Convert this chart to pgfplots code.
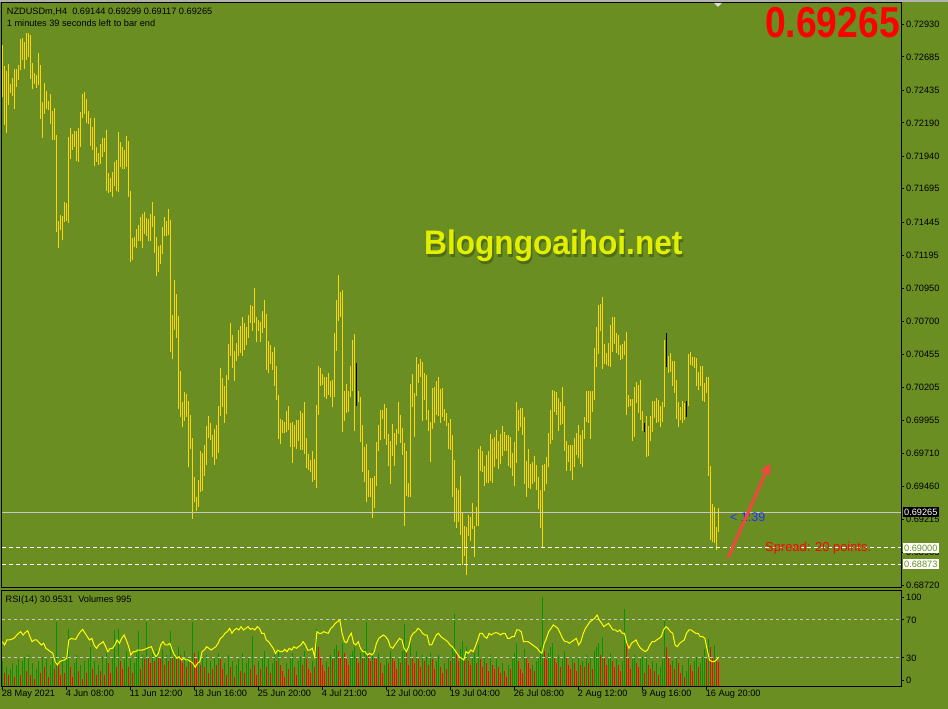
\documentclass[border=0pt]{standalone}
\usepackage{fontspec}
\setmainfont{Liberation Sans}
\usepackage{graphicx}
\usepackage{pgfplots}
\pgfplotsset{compat=1.18}
\usepackage{pgfplotstable}
\usetikzlibrary{arrows.meta}

\definecolor{olive}{RGB}{107,142,35}
\definecolor{barcol}{RGB}{255,215,0}
\definecolor{volg}{RGB}{0,150,0}
\definecolor{volr}{RGB}{255,0,0}
\definecolor{rsiy}{RGB}{255,255,0}
\definecolor{lvl}{RGB}{200,200,200}
\definecolor{wm}{RGB}{226,240,0}
\definecolor{wmshadow}{RGB}{72,96,20}
\definecolor{arrowred}{RGB}{240,72,60}
\definecolor{blue1}{RGB}{30,50,255}

\newcommand\mt{\fontsize{9.2}{11}\selectfont}

% H4 bars: index, low, high
\pgfplotstableread[row sep=\\]{
i l h\\
0 0.72386 0.72774\\ 1 0.72177 0.72614\\ 2 0.72115 0.72579\\ 3 0.72324 0.72632\\ 4 0.72413 0.72485\\
5 0.72394 0.72528\\ 6 0.72297 0.72595\\ 7 0.72461 0.72595\\ 8 0.72512 0.72624\\ 9 0.72587 0.72820\\
10 0.72662 0.72828\\ 11 0.72595 0.72796\\ 12 0.72662 0.72868\\ 13 0.72681 0.72868\\ 14 0.72520 0.72849\\
15 0.72445 0.72640\\ 16 0.72480 0.72565\\ 17 0.72453 0.72547\\ 18 0.72474 0.72715\\ 19 0.72220 0.72624\\
20 0.72080 0.72346\\ 21 0.72257 0.72490\\ 22 0.72297 0.72431\\ 23 0.72284 0.72354\\ 24 0.72182 0.72407\\
25 0.72064 0.72279\\ 26 0.72064 0.72303\\ 27 0.71373 0.72099\\ 28 0.71247 0.71453\\ 29 0.71389 0.71499\\
30 0.71314 0.71491\\ 31 0.71448 0.71595\\ 32 0.71453 0.71587\\ 33 0.71442 0.72086\\ 34 0.71917 0.72153\\
35 0.71989 0.72107\\ 36 0.72005 0.72131\\ 37 0.71901 0.72131\\ 38 0.71898 0.72153\\ 39 0.72008 0.72271\\
40 0.72228 0.72407\\ 41 0.72260 0.72421\\ 42 0.72190 0.72370\\ 43 0.72185 0.72279\\ 44 0.72016 0.72230\\
45 0.71989 0.72158\\ 46 0.71863 0.72230\\ 47 0.71898 0.72008\\ 48 0.71877 0.71965\\ 49 0.71882 0.72032\\
50 0.71930 0.72078\\ 51 0.71970 0.72078\\ 52 0.71676 0.72139\\ 53 0.71660 0.71815\\ 54 0.71670 0.71775\\
55 0.71635 0.71820\\ 56 0.71713 0.71895\\ 57 0.71676 0.71909\\ 58 0.71670 0.72118\\ 59 0.71855 0.72043\\
60 0.71847 0.72008\\ 61 0.71847 0.71989\\ 62 0.71855 0.72091\\ 63 0.71635 0.72053\\ 64 0.71148 0.71676\\
65 0.71161 0.71327\\ 66 0.71255 0.71333\\ 67 0.71247 0.71394\\ 68 0.71306 0.71421\\ 69 0.71300 0.71480\\
70 0.71247 0.71507\\ 71 0.71354 0.71520\\ 72 0.71341 0.71475\\ 73 0.71300 0.71469\\ 74 0.71300 0.71507\\
75 0.71408 0.71595\\ 76 0.71215 0.71493\\ 77 0.71038 0.71335\\ 78 0.71067 0.71268\\ 79 0.71134 0.71274\\
80 0.71207 0.71405\\ 81 0.71341 0.71483\\ 82 0.71341 0.71456\\ 83 0.71349 0.71544\\ 84 0.70470 0.71461\\
85 0.70416 0.70748\\ 86 0.70638 0.71011\\ 87 0.70574 0.70906\\ 88 0.70046 0.70743\\ 89 0.69982 0.70328\\
90 0.69907 0.70094\\ 91 0.69955 0.70169\\ 92 0.69982 0.70156\\ 93 0.69604 0.70102\\ 94 0.69746 0.69998\\
95 0.69218 0.69826\\ 96 0.69344 0.69532\\ 97 0.69277 0.69384\\ 98 0.69304 0.69510\\ 99 0.69416 0.69727\\
100 0.69430 0.69714\\ 101 0.69542 0.69773\\ 102 0.69623 0.69915\\ 103 0.69826 0.69993\\ 104 0.69813 0.69939\\
105 0.69682 0.69848\\ 106 0.69625 0.69893\\ 107 0.69666 0.69923\\ 108 0.69714 0.70065\\ 109 0.69993 0.70352\\
110 0.70057 0.70277\\ 111 0.69939 0.70215\\ 112 0.70006 0.70298\\ 113 0.70263 0.70531\\ 114 0.70440 0.70689\\
115 0.70352 0.70598\\ 116 0.70252 0.70478\\ 117 0.70403 0.70539\\ 118 0.70443 0.70636\\ 119 0.70464 0.70665\\
120 0.70440 0.70732\\ 121 0.70488 0.70689\\ 122 0.70523 0.70657\\ 123 0.70577 0.70748\\ 124 0.70689 0.70823\\
125 0.70630 0.70818\\ 126 0.70689 0.70952\\ 127 0.70545 0.70732\\ 128 0.70630 0.70711\\ 129 0.70545 0.70695\\
130 0.70614 0.70778\\ 131 0.70652 0.70861\\ 132 0.70336 0.70756\\ 133 0.70314 0.70553\\ 134 0.70381 0.70523\\
135 0.70336 0.70470\\ 136 0.70215 0.70507\\ 137 0.70113 0.70365\\ 138 0.69821 0.70148\\ 139 0.69781 0.69971\\
140 0.69859 0.69960\\ 141 0.69859 0.69942\\ 142 0.69867 0.70027\\ 143 0.69888 0.70065\\ 144 0.69754 0.69939\\
145 0.69639 0.69944\\ 146 0.69757 0.69923\\ 147 0.69746 0.69960\\ 148 0.69805 0.69960\\ 149 0.69738 0.70027\\
150 0.69738 0.70014\\ 151 0.69706 0.70094\\ 152 0.69601 0.69826\\ 153 0.69585 0.69706\\ 154 0.69572 0.69660\\
155 0.69494 0.69727\\ 156 0.69513 0.69668\\ 157 0.69451 0.70073\\ 158 0.70001 0.70365\\ 159 0.70218 0.70349\\
160 0.70223 0.70306\\ 161 0.70135 0.70282\\ 162 0.70121 0.70282\\ 163 0.70148 0.70314\\ 164 0.70129 0.70252\\
165 0.70054 0.70263\\ 166 0.70135 0.70614\\ 167 0.70480 0.70861\\ 168 0.70705 0.71048\\ 169 0.70732 0.70920\\
170 0.69872 0.70936\\ 171 0.69955 0.70177\\ 172 0.70014 0.70231\\ 173 0.70022 0.70177\\ 174 0.70129 0.70365\\
175 0.70177 0.70561\\ 176 0.69880 0.70606\\ 178 0.70092 0.70177\\ 179 0.69792 0.70132\\
180 0.69572 0.69923\\ 181 0.69491 0.69757\\ 182 0.69344 0.69781\\ 183 0.69379 0.69585\\ 184 0.69379 0.69526\\
185 0.69221 0.69526\\ 186 0.69296 0.69540\\ 187 0.69462 0.69794\\ 188 0.69730 0.69923\\ 189 0.69813 0.70035\\
190 0.69971 0.70035\\ 191 0.69821 0.70081\\ 192 0.69770 0.70051\\ 193 0.69612 0.69853\\ 194 0.69478 0.69800\\
195 0.69692 0.69931\\ 196 0.69617 0.69864\\ 197 0.69775 0.69893\\ 198 0.69853 0.70094\\ 199 0.69786 0.69998\\
200 0.69698 0.69901\\ 201 0.69162 0.69786\\ 202 0.69392 0.69727\\ 203 0.69379 0.69489\\ 204 0.69379 0.70231\\
205 0.70054 0.70306\\ 206 0.69832 0.70164\\ 207 0.70143 0.70432\\ 208 0.70234 0.70381\\ 209 0.70282 0.70419\\
210 0.69955 0.70395\\ 211 0.70108 0.70312\\ 212 0.69960 0.70298\\ 213 0.69880 0.70035\\ 214 0.69641 0.69947\\
215 0.69896 0.70202\\ 216 0.69934 0.70207\\ 217 0.70001 0.70252\\ 218 0.69993 0.70285\\ 219 0.69934 0.70194\\
220 0.69982 0.70202\\ 221 0.69955 0.70043\\ 222 0.69915 0.70014\\ 223 0.69746 0.69936\\ 224 0.69733 0.69968\\
225 0.69381 0.69848\\ 226 0.69197 0.69660\\ 227 0.69151 0.69448\\ 228 0.69197 0.69438\\ 229 0.69100 0.69540\\
230 0.68875 0.69269\\ 231 0.68942 0.69167\\ 232 0.68800 0.69156\\ 233 0.69087 0.69248\\ 234 0.69049 0.69231\\
235 0.69143 0.69339\\ 236 0.68929 0.69162\\ 237 0.69162 0.69309\\ 238 0.69162 0.69746\\ 239 0.69580 0.69765\\
240 0.69569 0.69727\\ 241 0.69462 0.69617\\ 242 0.69489 0.69700\\ 243 0.69486 0.69727\\ 244 0.69505 0.69856\\
245 0.69489 0.69818\\ 246 0.69604 0.69832\\ 247 0.69666 0.69883\\ 248 0.69593 0.69800\\ 249 0.69633 0.69856\\
250 0.69687 0.69915\\ 251 0.69727 0.69872\\ 252 0.69727 0.69851\\ 253 0.69612 0.69848\\ 254 0.69596 0.69829\\
255 0.69540 0.69714\\ 256 0.69467 0.69794\\ 257 0.69636 0.70094\\ 258 0.69880 0.70035\\ 259 0.69907 0.70051\\
260 0.69848 0.70051\\ 261 0.69483 0.69979\\ 262 0.69384 0.69652\\ 263 0.69451 0.69743\\ 264 0.69443 0.69628\\
265 0.69483 0.69644\\ 266 0.69494 0.69690\\ 267 0.69438 0.69625\\ 268 0.69290 0.69532\\ 269 0.69146 0.69435\\
270 0.69001 0.69620\\ 271 0.69430 0.69633\\ 272 0.69478 0.69682\\ 273 0.69604 0.69864\\ 274 0.69781 0.70035\\
275 0.69813 0.70185\\ 276 0.70019 0.70175\\ 277 0.70001 0.70167\\ 278 0.69880 0.70127\\ 279 0.69920 0.70094\\
280 0.69928 0.70207\\ 281 0.69730 0.70068\\ 282 0.69580 0.69802\\ 283 0.69644 0.69773\\ 284 0.69580 0.69773\\
285 0.69513 0.69773\\ 286 0.69604 0.69826\\ 287 0.69698 0.69864\\ 288 0.69671 0.69923\\ 289 0.69631 0.69848\\
290 0.69604 0.69885\\ 291 0.69821 0.69985\\ 292 0.69947 0.70177\\ 293 0.69939 0.70177\\ 294 0.69821 0.70177\\
295 0.70022 0.70175\\ 296 0.70113 0.70502\\ 297 0.70354 0.70657\\ 298 0.70456 0.70826\\ 299 0.70625 0.70831\\
300 0.70346 0.70882\\ 301 0.70381 0.70534\\ 302 0.70373 0.70464\\ 303 0.70362 0.70539\\ 304 0.70360 0.70671\\
305 0.70470 0.70732\\ 306 0.70529 0.70732\\ 307 0.70462 0.70614\\ 308 0.70451 0.70596\\ 309 0.70408 0.70523\\
310 0.70416 0.70531\\ 311 0.70448 0.70555\\ 312 0.70001 0.70620\\ 313 0.70054 0.70148\\ 314 0.70068 0.70121\\
315 0.69800 0.70121\\ 316 0.69832 0.70207\\ 317 0.70086 0.70242\\ 318 0.70014 0.70223\\ 319 0.69960 0.70261\\
320 0.69880 0.70025\\ 322 0.69679 0.69987\\ 323 0.69687 0.69915\\ 324 0.69800 0.69993\\
325 0.69872 0.70102\\ 326 0.69974 0.70102\\ 327 0.69939 0.70127\\ 328 0.69947 0.70113\\ 329 0.69907 0.70068\\
330 0.69947 0.70094\\ 331 0.70054 0.70563\\ 333 0.70309 0.70443\\ 334 0.70322 0.70464\\
335 0.70215 0.70403\\ 336 0.70161 0.70403\\ 337 0.69966 0.70263\\ 338 0.69907 0.70094\\ 339 0.69960 0.70054\\
340 0.69934 0.70102\\ 341 0.69960 0.70089\\ 343 0.70062 0.70456\\ 344 0.70376 0.70470\\
345 0.70362 0.70435\\ 346 0.70349 0.70435\\ 347 0.70215 0.70427\\ 348 0.70183 0.70322\\ 349 0.70215 0.70365\\
350 0.70102 0.70365\\ 351 0.70094 0.70234\\ 352 0.70161 0.70282\\ 353 0.69540 0.70282\\ 354 0.69063 0.69612\\
355 0.69041 0.69331\\ 356 0.69036 0.69304\\ 357 0.68982 0.69156\\ 358 0.69117 0.69299\\
}\bars

\pgfplotstableread[row sep=\\]{
i l h\\
177 0.70068 0.70389\\ 321 0.69867 0.69939\\ 332 0.70354 0.70614\\ 342 0.69979 0.70102\\
}\blackbars

\begin{document}
\begin{tikzpicture}[x=1pt,y=1pt]
\fill[olive] (0,0) rectangle (948,709);
\fill[gray!60] (0,706.5) rectangle (948,709);

% price panel
\begin{axis}[
  at={(2pt,121pt)}, anchor=south west, scale only axis,
  width=899pt, height=585pt,
  xmin=-0.335, xmax=449.165, ymin=0.686991, ymax=0.730895,
  axis line style={black, line width=1pt},
  xtick=\empty,
  ytick={0.72930,0.72685,0.72435,0.72190,0.71940,0.71695,0.71445,0.71195,0.70950,
         0.70700,0.70455,0.70205,0.69955,0.69710,0.69460,0.69215,0.68965,0.68720},
  yticklabels={0.72930,0.72685,0.72435,0.72190,0.71940,0.71695,0.71445,0.71195,0.70950,
         0.70700,0.70455,0.70205,0.69955,0.69710,0.69460,0.69215,0.68965,0.68720},
  ytick pos=right, yticklabel pos=right,
  tick align=outside, major tick length=3pt,
  tick style={black, line width=1pt},
  yticklabel style={font=\mt, anchor=west, inner sep=0pt, xshift=2pt},
]
\addplot[draw=none, mark=none, error bars/.cd, y dir=plus, y explicit,
  error mark=none, error bar style={draw=barcol, line width=1pt}]
  table[x=i, y=l, y error plus expr=\thisrow{h}-\thisrow{l}] {\bars};
\addplot[draw=none, mark=none, error bars/.cd, y dir=plus, y explicit,
  error mark=none, error bar style={draw=black, line width=1pt}]
  table[x=i, y=l, y error plus expr=\thisrow{h}-\thisrow{l}] {\blackbars};
\addplot[lvl, line width=1pt] coordinates {(-0.335,0.69265) (449.165,0.69265)};
\addplot[white, line width=1pt, dash pattern=on 4pt off 3pt] coordinates {(-0.335,0.69000) (449.165,0.69000)};
\addplot[white, line width=1pt, dash pattern=on 4pt off 3pt] coordinates {(-0.335,0.68873) (449.165,0.68873)};
\end{axis}

% volumes
\begin{axis}[
  at={(2pt,22pt)}, anchor=south west, scale only axis,
  width=899pt, height=96pt,
  xmin=-0.335, xmax=449.165, ymin=0, ymax=3840,
  hide axis,
]
\addplot[ycomb, volg, line width=1pt, mark=none] coordinates {
(0,1040)(2,800)(4,720)(5,960)(7,880)(8,1120)(10,1040)(11,1200)(13,1280)(15,960)(17,720)(18,1040)(20,1200)(22,1120)(24,880)(25,1200)(27,2600)(30,1200)(32,1120)(33,2320)(36,960)(37,1280)(39,880)(41,1040)(43,1200)(44,1600)(46,1040)(48,880)(50,1200)(52,1360)(55,1200)(56,2280)(58,2320)(61,1120)(62,1440)(64,1200)(66,960)(67,1360)(68,2240)(70,1280)(72,2600)(75,1360)(77,1440)(80,1520)(82,1280)(84,2240)(86,1360)(88,1600)(91,1440)(93,1200)(95,2600)(98,1440)(100,1200)(102,1280)(104,1040)(106,1200)(108,1360)(111,960)(113,1280)(115,1040)(117,880)(118,1120)(120,1360)(122,960)(123,1200)(125,2040)(128,1040)(130,1200)(131,1440)(133,1120)(135,960)(136,1280)(138,1520)(142,960)(144,1200)(145,1360)(148,1040)(149,1200)(151,1440)(155,1040)(157,2320)(162,1040)(164,1280)(166,1520)(167,1680)(170,1760)(174,1280)(175,1440)(176,1600)(179,1360)(181,1520)(182,2600)(185,1440)(188,1360)(191,880)(192,1120)(194,1440)(198,1200)(200,1440)(201,2520)(204,1760)(207,1440)(210,1280)(212,1200)(214,1360)(217,1040)(218,1280)(221,960)(223,1200)(225,1600)(226,2920)(229,1520)(230,1840)(232,1600)(235,1200)(236,1360)(238,1680)(241,1200)(244,1280)(247,1120)(250,960)(253,880)(255,1120)(256,1360)(257,1760)(261,1520)(265,880)(267,1040)(268,1200)(269,1600)(270,3600)(273,1360)(274,1600)(275,1760)(278,1280)(280,1120)(281,1440)(285,1120)(288,1200)(290,1040)(292,1280)(294,1200)(296,1440)(297,1600)(298,1760)(300,2000)(303,1120)(304,1360)(307,1120)(310,1040)(311,3120)(315,1120)(316,1280)(319,1120)(320,1200)(322,1280)(325,1040)(327,960)(329,800)(330,1120)(331,2640)(335,1040)(337,1200)(340,880)(342,640)(343,1200)(346,1040)(347,1200)(349,960)(350,1200)(351,1520)(353,1920)(356,1680)
};
\addplot[ycomb, volr, line width=1pt, mark=none] coordinates {
(1,560)(3,480)(6,400)(9,480)(12,640)(14,480)(16,320)(19,560)(21,800)(23,400)(26,720)(28,960)(29,480)(31,560)(34,800)(35,400)(38,640)(40,320)(42,560)(45,720)(47,480)(49,640)(51,480)(53,960)(54,560)(57,800)(59,1040)(60,720)(63,800)(65,560)(69,720)(71,1120)(73,1200)(74,960)(76,1040)(78,1200)(79,1120)(81,880)(83,1040)(85,1200)(87,1120)(89,1280)(90,960)(92,800)(94,1040)(96,1360)(97,1120)(99,880)(101,800)(103,560)(105,720)(107,880)(109,1120)(110,720)(112,480)(114,800)(116,400)(119,640)(121,560)(124,720)(126,880)(127,480)(129,720)(132,800)(134,560)(137,1040)(139,880)(140,640)(141,400)(143,720)(146,800)(147,480)(150,880)(152,1120)(153,720)(154,560)(156,800)(158,1600)(159,1200)(160,880)(161,640)(163,800)(165,1120)(168,1440)(169,1200)(171,1360)(172,1120)(173,880)(177,1200)(178,960)(180,1200)(183,1280)(184,1040)(186,1200)(187,1120)(189,960)(190,560)(193,960)(195,1200)(196,1040)(197,720)(199,960)(202,1360)(203,880)(205,1200)(206,960)(208,1120)(209,800)(211,1040)(213,880)(215,1120)(216,720)(219,800)(220,560)(222,720)(224,1040)(227,1360)(228,1040)(231,1200)(233,1040)(234,880)(237,960)(239,1120)(240,800)(242,960)(243,640)(245,880)(246,720)(248,800)(249,560)(251,640)(252,400)(254,720)(258,1040)(259,720)(260,560)(262,1200)(263,960)(264,720)(266,640)(271,1440)(272,1120)(276,1200)(277,960)(279,800)(282,1200)(283,880)(284,720)(286,960)(287,640)(289,880)(291,800)(293,960)(295,720)(299,1280)(301,1200)(302,880)(305,1040)(306,800)(308,880)(309,640)(312,1760)(313,1200)(314,720)(317,960)(318,800)(321,560)(323,880)(324,720)(326,640)(328,480)(332,1600)(333,1200)(334,880)(336,720)(338,960)(339,560)(341,400)(344,880)(345,640)(348,800)(352,1120)(354,1600)(355,1200)(357,1120)(358,995)
};
\end{axis}

% RSI panel
\begin{axis}[
  at={(2pt,22pt)}, anchor=south west, scale only axis,
  width=899pt, height=96pt,
  xmin=-0.335, xmax=449.165, ymin=-0.53, ymax=100.53,
  axis line style={black, line width=1pt},
  xtick={0,32,64,96,128,160,192,224,256,288,320,352},
  xticklabels={28 May 2021,4 Jun 08:00,11 Jun 12:00,18 Jun 16:00,25 Jun 20:00,4 Jul 21:00,
               12 Jul 00:00,19 Jul 04:00,26 Jul 08:00,2 Aug 12:00,9 Aug 16:00,16 Aug 20:00},
  xtick pos=left,
  ytick={6.1,30,70,93.5}, yticklabels={0,30,70,100},
  ytick pos=right, yticklabel pos=right,
  tick align=outside, major tick length=3pt,
  tick style={black, line width=1pt},
  yticklabel style={font=\mt, anchor=west, inner sep=0pt, xshift=2pt},
  xticklabel style={font=\mt, anchor=north west, inner sep=0pt, xshift=-1pt},
]
\addplot[lvl, line width=1pt, dash pattern=on 3pt off 3pt] coordinates {(-0.335,70) (449.165,70)};
\addplot[lvl, line width=1pt, dash pattern=on 3pt off 3pt] coordinates {(-0.335,30) (449.165,30)};
\addplot[rsiy, line width=1pt, mark=none] coordinates {
(-0.2,47.2)(1.0,43.7)(2.1,49.0)(3.3,49.0)(4.4,49.7)(5.6,50.7)(6.7,53.2)(7.9,56.0)(9.0,57.7)
(10.2,54.2)(11.3,56.7)(12.5,58.8)(13.6,52.5)(14.7,47.2)(15.9,49.0)(17.0,49.0)(18.2,46.2)(19.3,43.7)(20.5,45.5)
(21.6,40.2)(22.8,38.4)(23.9,36.7)(25.1,34.9)(26.2,26.2)(27.4,22.6)(28.5,26.2)(29.7,27.2)(30.8,27.9)(32.0,29.7)
(33.1,49.0)(34.3,50.7)(35.4,50.0)(36.6,49.7)(37.7,54.2)(38.9,57.7)(40.0,60.2)(41.2,56.0)(42.3,52.5)(43.4,49.0)
(44.6,50.7)(45.7,43.7)(46.9,40.2)(48.0,43.7)(49.2,45.5)(50.3,47.2)(51.5,41.9)(52.6,36.7)(53.8,40.2)(54.9,40.2)
(56.1,43.7)(57.2,49.0)(58.4,45.5)(59.5,50.7)(60.7,54.2)(61.8,49.0)(63.0,41.9)(64.1,33.2)(65.3,36.7)(66.4,36.7)
(67.6,38.4)(68.7,38.4)(69.9,38.4)(71.0,39.1)(72.1,40.2)(73.3,41.2)(74.4,41.9)(75.6,34.9)(76.7,31.4)(77.9,34.9)
(79.0,43.7)(80.2,47.2)(81.3,43.7)(82.5,43.7)(83.6,45.5)(84.8,38.4)(85.9,33.2)(87.1,29.7)(88.2,31.4)(89.4,27.9)
(90.5,29.7)(91.7,27.9)(92.8,27.9)(94.0,26.2)(95.1,24.4)(96.3,20.2)(97.4,24.4)(98.6,26.2)(99.7,36.7)(100.8,38.4)
(102.0,41.9)(103.1,40.2)(104.3,38.4)(105.4,40.2)(106.6,41.9)(107.7,45.5)(108.9,50.7)(110.0,52.5)(111.2,56.0)(112.3,57.7)
(113.5,61.2)(114.6,56.0)(115.8,59.5)(116.9,61.2)(118.1,59.5)(119.2,63.0)(120.4,59.5)(121.5,61.2)(122.7,63.0)(123.8,60.2)
(125.0,61.2)(126.1,59.5)(127.3,63.0)(128.4,61.2)(129.5,56.0)(130.7,56.0)(131.8,49.0)(133.0,47.2)(134.1,43.7)(135.3,40.2)
(136.4,34.9)(137.6,38.4)(138.7,36.7)(139.9,36.7)(141.0,39.1)(142.2,36.7)(143.3,40.2)(144.5,38.4)(145.6,41.9)(146.8,40.2)
(147.9,41.9)(149.1,43.7)(150.2,47.2)(151.4,43.7)(152.5,38.4)(153.7,38.4)(154.8,40.2)(156.0,31.4)(157.1,57.7)(158.2,56.0)
(159.4,56.0)(160.5,57.7)(161.7,56.7)(162.8,56.0)(164.0,61.2)(165.1,63.0)(166.3,66.5)(167.4,68.3)(168.6,70.0)(169.7,56.0)
(170.9,47.2)(172.0,46.2)(173.2,52.5)(174.3,56.0)(175.5,45.5)(176.6,43.7)(177.8,47.2)(178.9,40.2)(180.1,36.7)(181.2,36.7)
(182.4,33.2)(183.5,34.9)(184.7,33.2)(185.8,36.7)(186.9,45.5)(188.1,50.7)(189.2,52.5)(190.4,54.2)(191.5,52.5)(192.7,49.0)
(193.8,41.9)(195.0,40.2)(196.1,43.7)(197.3,47.2)(198.4,50.7)(199.6,49.0)(200.7,40.2)(201.9,36.7)(203.0,41.9)(204.2,52.5)
(205.3,56.0)(206.5,57.7)(207.6,61.2)(208.8,59.5)(209.9,56.0)(211.1,54.2)(212.2,54.2)(213.4,43.7)(214.5,43.7)(215.6,49.0)
(216.8,54.2)(217.9,56.0)(219.1,52.5)(220.2,50.7)(221.4,49.0)(222.5,47.2)(223.7,43.7)(224.8,41.9)(226.0,38.4)(227.1,34.9)
(228.3,31.4)(229.4,29.7)(230.6,27.9)(231.7,36.7)(232.9,34.9)(234.0,38.4)(235.2,36.7)(236.3,41.9)(237.5,49.0)(238.6,56.0)
(239.8,56.0)(240.9,52.5)(242.1,50.7)(243.2,56.0)(244.3,54.2)(245.5,56.0)(246.6,56.7)(247.8,56.0)(248.9,54.2)(250.1,56.0)
(251.2,56.0)(252.4,50.7)(253.5,50.7)(254.7,52.5)(255.8,52.5)(257.0,59.5)(258.1,59.5)(259.3,57.7)(260.4,47.2)(261.6,47.2)
(262.7,47.2)(263.9,45.5)(265.0,43.7)(266.2,41.9)(267.3,40.2)(268.5,36.7)(269.6,34.9)(270.8,45.5)(271.9,50.7)(273.0,57.7)
(274.2,61.2)(275.3,64.8)(276.5,63.0)(277.6,61.2)(278.8,56.0)(279.9,50.7)(281.1,47.2)(282.2,47.2)(283.4,45.5)(284.5,47.2)
(285.7,49.0)(286.8,50.7)(288.0,43.7)(289.1,47.2)(290.3,56.0)(291.4,61.2)(292.6,64.8)(293.7,68.3)(294.9,70.0)(296.0,71.8)
(297.2,75.3)(298.3,70.0)(299.5,66.5)(300.6,63.0)(301.7,64.8)(302.9,66.5)(304.0,63.0)(305.2,59.5)(306.3,59.5)(307.5,57.7)
(308.6,59.5)(309.8,56.0)(310.9,56.0)(312.1,45.5)(313.2,40.2)(314.4,45.5)(315.5,47.2)(316.7,49.0)(317.8,43.7)(319.0,40.2)
(320.1,38.4)(321.3,36.7)(322.4,38.4)(323.6,43.7)(324.7,47.2)(325.9,47.2)(327.0,49.0)(328.2,50.7)(329.3,52.5)(330.4,59.5)
(331.6,63.0)(332.7,61.2)(333.9,57.7)(335.0,56.0)(336.2,43.7)(337.3,41.9)(338.5,45.5)(339.6,47.2)(340.8,49.0)(341.9,56.0)
(343.1,59.5)(344.2,59.5)(345.4,57.7)(346.5,56.0)(347.7,56.0)(348.8,52.5)(350.0,52.5)(351.1,50.7)(352.3,38.4)(353.4,27.9)
(354.6,26.2)(355.7,26.2)(356.9,27.9)(358.0,30.95)
};
\end{axis}

% texts and markers
\fill[gray!25] (714,706) -- (722,706) -- (718,702) -- cycle;
\node[anchor=base west, inner sep=0pt, font=\mt] at (6.7,694) {NZDUSDm,H4\hspace{0.55em}0.69144 0.69299 0.69117 0.69265};
\node[anchor=base west, inner sep=0pt, font=\mt] at (6.7,682) {1 minutes 39 seconds left to bar end};
\node[anchor=base west, inner sep=0pt, font=\mt] at (5.5,106) {RSI(14) 30.9531\hspace{0.55em}Volumes 995};

\node[anchor=base west, inner sep=0pt, text=wmshadow, opacity=0.75] at (425.5,451.5)
  {\scalebox{0.93}[1]{\fontsize{34}{34}\selectfont\bfseries Blogngoaihoi.net}};
\node[anchor=base west, inner sep=0pt, text=wm] at (424,454)
  {\scalebox{0.93}[1]{\fontsize{34}{34}\selectfont\bfseries Blogngoaihoi.net}};

\node[anchor=base west, inner sep=0pt, text=red] at (765,671)
  {\scalebox{0.86}[1]{\fontsize{43.3}{43}\selectfont\bfseries 0.69265}};

\node[anchor=base west, inner sep=0pt, text=blue1] at (730,187) {\fontsize{12.5}{14}\selectfont <\ 1:39};
\node[anchor=base west, inner sep=0pt, text=red] at (765,157) {\fontsize{12.9}{14}\selectfont Spread: 20 points.};

\draw[arrowred, line width=3pt, -{Triangle[length=11pt,width=10pt]}] (728,151) -- (770,246);

\node[fill=black, text=white, anchor=west, inner xsep=1.5pt, inner ysep=1.8pt, font=\mt] at (902.5,197) {0.69265};
\node[fill=white, text=olive, anchor=west, inner xsep=1.5pt, inner ysep=1.8pt, font=\mt] at (902.5,161) {0.69000};
\node[fill=white, text=olive, anchor=west, inner xsep=1.5pt, inner ysep=1.8pt, font=\mt] at (902.5,145) {0.68873};
\end{tikzpicture}
\end{document}
